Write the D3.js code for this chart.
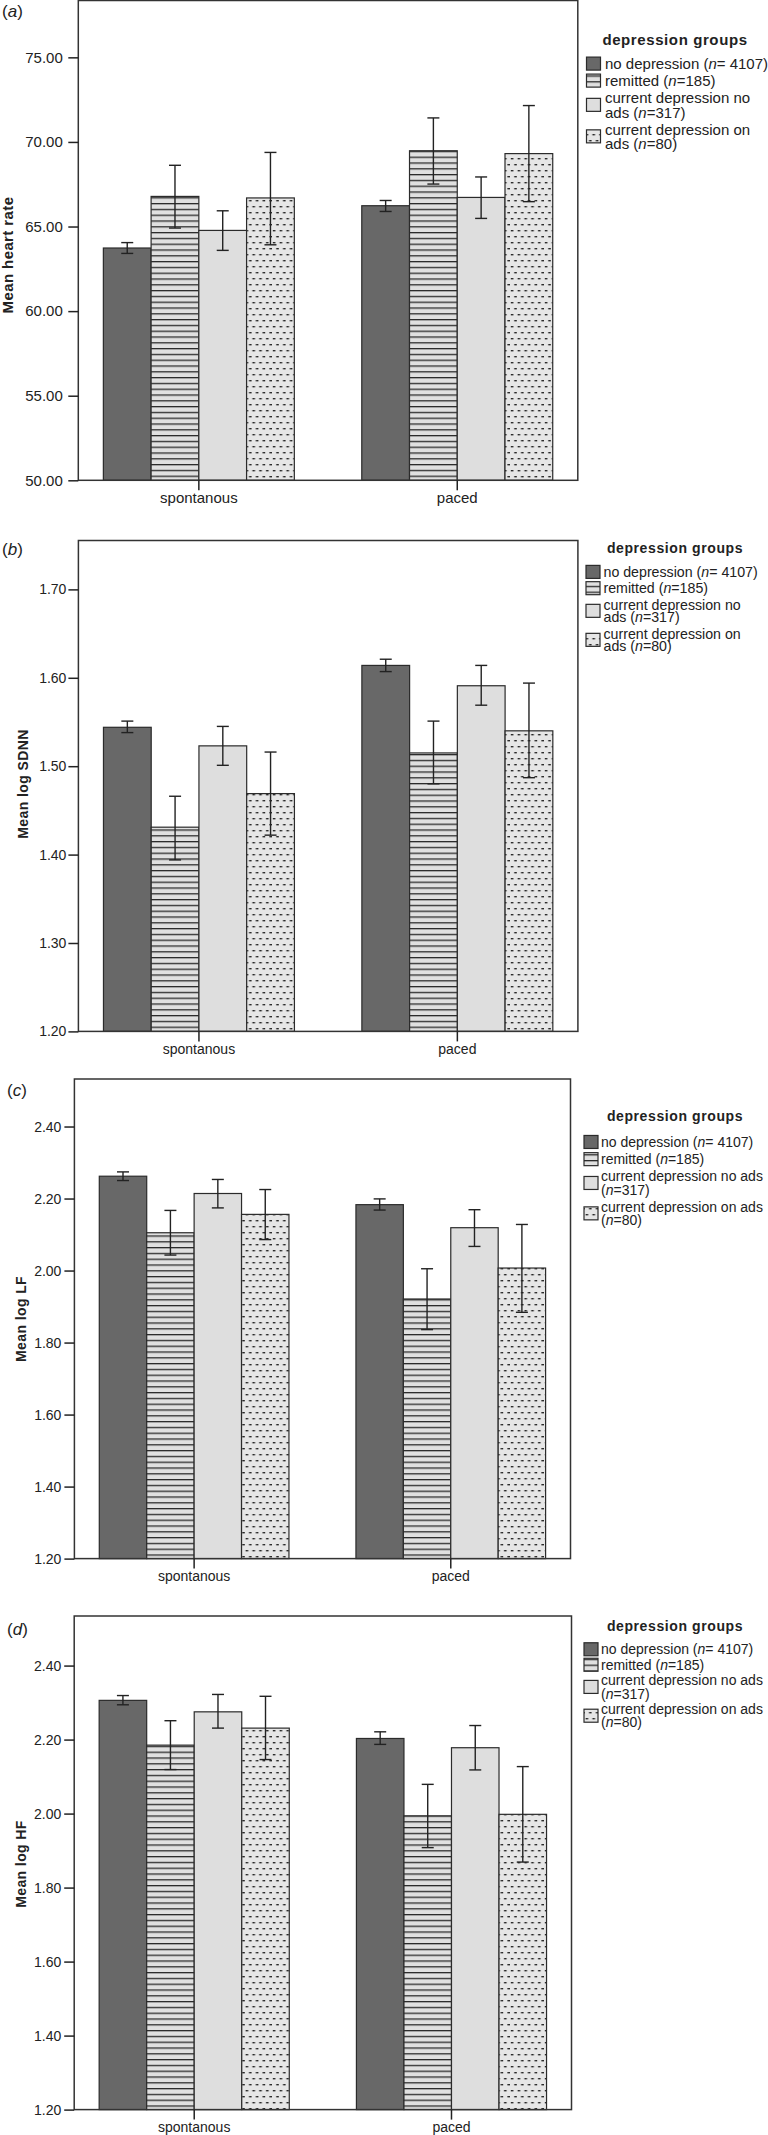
<!DOCTYPE html>
<html><head><meta charset="utf-8">
<script src="https://cdn.jsdelivr.net/npm/d3@7"></script>
<style>
body{margin:0;background:#fff}
svg{display:block}
text{font-family:"Liberation Sans",Arial,Helvetica,sans-serif;fill:#222}
</style>
</head><body>
<svg id="chart" width="768" height="2135"></svg>
<script>
// ---------- DATA ----------
const categories = ["spontanous", "paced"];
const groups = ["no depression", "remitted", "current depression no ads", "current depression on ads"];
const legendTitle = "depression groups";
const legendNarrow = [["no depression (n= 4107)"], ["remitted (n=185)"], ["current depression no", "ads (n=317)"], ["current depression on", "ads (n=80)"]];
const legendWide = [["no depression (n= 4107)"], ["remitted (n=185)"], ["current depression no ads", "(n=317)"], ["current depression on ads", "(n=80)"]];

// (a) Mean heart rate  [spontanous, paced] x groups
const heartRateMean = [[63.73, 66.78, 64.77, 66.69], [66.23, 69.48, 66.72, 69.31]];
const heartRateLow  = [[63.41, 64.91, 63.59, 63.92], [65.89, 67.51, 65.48, 66.47]];
const heartRateHigh = [[64.05, 68.62, 65.93, 69.38], [66.54, 71.42, 67.93, 72.15]];
const heartRateTicks = [50, 55, 60, 65, 70, 75];

// (b) Mean log SDNN
const sdnnMean = [[1.544, 1.431, 1.523, 1.469], [1.614, 1.515, 1.591, 1.540]];
const sdnnLow  = [[1.538, 1.394, 1.501, 1.422], [1.607, 1.480, 1.569, 1.487]];
const sdnnHigh = [[1.551, 1.466, 1.545, 1.516], [1.621, 1.551, 1.614, 1.594]];
const sdnnTicks = [1.2, 1.3, 1.4, 1.5, 1.6, 1.7];

// (c) Mean log LF
const lfMean = [[2.262, 2.105, 2.214, 2.156], [2.183, 1.921, 2.119, 2.007]];
const lfLow  = [[2.250, 2.043, 2.174, 2.086], [2.168, 1.836, 2.067, 1.884]];
const lfHigh = [[2.274, 2.167, 2.253, 2.225], [2.199, 2.005, 2.169, 2.128]];
const lfTicks = [1.2, 1.4, 1.6, 1.8, 2.0, 2.2, 2.4];

// (d) Mean log HF
const hfMean = [[2.306, 2.185, 2.275, 2.231], [2.203, 1.994, 2.178, 1.998]];
const hfLow  = [[2.294, 2.119, 2.231, 2.146], [2.187, 1.908, 2.118, 1.869]];
const hfHigh = [[2.319, 2.251, 2.322, 2.317], [2.221, 2.079, 2.238, 2.127]];
const hfTicks = [1.2, 1.4, 1.6, 1.8, 2.0, 2.2, 2.4];

// ---------- DRAWING ----------
const svg = d3.select("#chart");
const defs = svg.append("defs");

const hl = defs.append("pattern").attr("id", "hl").attr("patternUnits", "userSpaceOnUse")
  .attr("width", 8).attr("height", 5.8);
hl.append("rect").attr("width", 8).attr("height", 5.8).attr("fill", "#e0e0e0");
hl.append("rect").attr("x", 0).attr("y", 0).attr("width", 8).attr("height", 1.3).attr("fill", "#2a2a2a");

const dots = defs.append("pattern").attr("id", "dots").attr("patternUnits", "userSpaceOnUse")
  .attr("width", 6.8).attr("height", 12);
dots.append("rect").attr("width", 6.8).attr("height", 12).attr("fill", "#e6e6e6");
dots.append("rect").attr("x", 0.8).attr("y", 2).attr("width", 2.6).attr("height", 1.4).attr("fill", "#2a2a2a");
dots.append("rect").attr("x", 4.2).attr("y", 8).attr("width", 2.6).attr("height", 1.4).attr("fill", "#2a2a2a");

const fills = ["#686868", "url(#hl)", "#dedede", "url(#dots)"];

const panels = [
  {label: "a", title: "Mean heart rate", mean: heartRateMean, low: heartRateLow, high: heartRateHigh, ticks: heartRateTicks,
   domain: [50, 78.36], left: 78.3, right: 577.8, top: 0.5, bottom: 480.3, fs: 15, tickPad: 5.5,
   titleX: 12.5, titleY: 255, titleFs: 15, labX: 2, labY: 17,
   leg: {lines: legendNarrow, titleY: 45, first: 69, pitch: 17, lineH: 14.5, fs: 15, tfs: 15, sx: 586.5, tx: 605}},
  {label: "b", title: "Mean log SDNN", mean: sdnnMean, low: sdnnLow, high: sdnnHigh, ticks: sdnnTicks,
   domain: [1.2, 1.7553], left: 78.4, right: 577.9, top: 540.5, bottom: 1031.4, fs: 14, tickPad: 2,
   titleX: 27.5, titleY: 784, titleFs: 14, labX: 2, labY: 555,
   leg: {lines: legendNarrow, titleY: 553, first: 577, pitch: 16.3, lineH: 12.7, fs: 14.2, tfs: 14, sx: 586, tx: 603.5}},
  {label: "c", title: "Mean log LF", mean: lfMean, low: lfLow, high: lfHigh, ticks: lfTicks,
   domain: [1.2, 2.532], left: 74.4, right: 570.5, top: 1079, bottom: 1558.6, fs: 14, tickPad: 3,
   titleX: 26, titleY: 1319, titleFs: 14, labX: 7, labY: 1096,
   leg: {lines: legendWide, titleY: 1121, first: 1147, pitch: 17.2, lineH: 13.2, fs: 14, tfs: 14, sx: 584, tx: 601}},
  {label: "d", title: "Mean log HF", mean: hfMean, low: hfLow, high: hfHigh, ticks: hfTicks,
   domain: [1.2, 2.534], left: 74.2, right: 571.5, top: 1616, bottom: 2109.6, fs: 14, tickPad: 3,
   titleX: 26, titleY: 1864, titleFs: 14, labX: 7, labY: 1635,
   leg: {lines: legendWide, titleY: 1631, first: 1654.3, pitch: 15.5, lineH: 13.3, fs: 14, tfs: 14, sx: 584, tx: 601}}
];

function addRichText(sel, str) {
  // italicise the "n" that follows "("
  const idx = str.indexOf("(n");
  if (idx < 0) { sel.append("tspan").text(str); return; }
  sel.append("tspan").text(str.slice(0, idx + 1));
  sel.append("tspan").attr("font-style", "italic").text("n");
  sel.append("tspan").text(str.slice(idx + 2));
}

panels.forEach(p => {
  const g = svg.append("g");
  const x0 = d3.scaleBand().domain(categories).range([p.left, p.right]).paddingInner(0.261).paddingOuter(0.097);
  const x1 = d3.scaleBand().domain(groups).range([0, x0.bandwidth()]);
  const y = d3.scaleLinear().domain(p.domain).range([p.bottom, p.top]);

  const rows = [];
  categories.forEach((c, ci) => groups.forEach((gr, gi) => rows.push({
    c, gr, gi, m: p.mean[ci][gi], lo: p.low[ci][gi], hi: p.high[ci][gi]
  })));

  // bars
  g.selectAll("rect.bar").data(rows).join("rect").attr("class", "bar")
    .attr("x", d => x0(d.c) + x1(d.gr))
    .attr("y", d => y(d.m))
    .attr("width", x1.bandwidth())
    .attr("height", d => y(p.domain[0]) - y(d.m))
    .attr("fill", d => fills[d.gi])
    .attr("stroke", "#2b2b2b").attr("stroke-width", 1.2);

  // error bars
  const eb = g.selectAll("g.eb").data(rows).join("g").attr("class", "eb")
    .attr("transform", d => `translate(${x0(d.c) + x1(d.gr) + x1.bandwidth() / 2},0)`);
  eb.append("line").attr("x1", 0).attr("x2", 0).attr("y1", d => y(d.lo)).attr("y2", d => y(d.hi))
    .attr("stroke", "#222").attr("stroke-width", 1.4);
  eb.append("line").attr("x1", -6).attr("x2", 6).attr("y1", d => y(d.lo)).attr("y2", d => y(d.lo))
    .attr("stroke", "#222").attr("stroke-width", 1.4);
  eb.append("line").attr("x1", -6).attr("x2", 6).attr("y1", d => y(d.hi)).attr("y2", d => y(d.hi))
    .attr("stroke", "#222").attr("stroke-width", 1.4);

  // frame
  g.append("rect").attr("x", p.left).attr("y", p.top).attr("width", p.right - p.left).attr("height", p.bottom - p.top)
    .attr("fill", "none").attr("stroke", "#333").attr("stroke-width", 1.5);

  // y axis
  const ya = g.append("g").attr("transform", `translate(${p.left},0)`)
    .call(d3.axisLeft(y).tickValues(p.ticks).tickFormat(d3.format(".2f")).tickSize(10).tickPadding(p.tickPad));
  ya.select(".domain").remove();
  ya.selectAll("line").attr("stroke", "#222").attr("stroke-width", 1.5);
  ya.selectAll("text").attr("font-size", p.fs).attr("font-family", null).attr("fill", "#222");

  // x axis
  const xa = g.append("g").attr("transform", `translate(0,${p.bottom})`)
    .call(d3.axisBottom(x0).tickSize(10).tickPadding(2.5));
  xa.select(".domain").remove();
  xa.selectAll("line").attr("stroke", "#222").attr("stroke-width", 1.5);
  xa.selectAll("text").attr("font-size", p.fs).attr("font-family", null).attr("fill", "#222");

  // y title
  g.append("text").attr("transform", `translate(${p.titleX},${p.titleY}) rotate(-90)`)
    .attr("text-anchor", "middle").attr("font-weight", "bold").attr("font-size", p.titleFs)
    .attr("letter-spacing", "0.4px").text(p.title);

  // panel label
  const lab = g.append("text").attr("x", p.labX).attr("y", p.labY).attr("font-size", 17);
  lab.append("tspan").text("(");
  lab.append("tspan").attr("font-style", "italic").text(p.label);
  lab.append("tspan").text(")");

  // legend
  const L = p.leg;
  g.append("text").attr("x", 675).attr("y", L.titleY).attr("text-anchor", "middle")
    .attr("font-weight", "bold").attr("font-size", L.tfs).attr("letter-spacing", "0.6px").text(legendTitle);
  let yy = L.first;
  L.lines.forEach((lines, i) => {
    const nL = lines.length;
    const cy = yy - L.fs * 0.36 + (nL - 1) * L.lineH / 2;
    g.append("rect").attr("x", L.sx).attr("y", cy - 6.5).attr("width", 14).attr("height", 13)
      .attr("fill", fills[i]).attr("stroke", "#2b2b2b").attr("stroke-width", 1.2);
    lines.forEach((ln, li) => {
      const t = g.append("text").attr("x", L.tx).attr("y", yy + li * L.lineH).attr("font-size", L.fs);
      addRichText(t, ln);
    });
    yy += (nL - 1) * L.lineH + L.pitch;
  });
});
</script>
</body></html>
